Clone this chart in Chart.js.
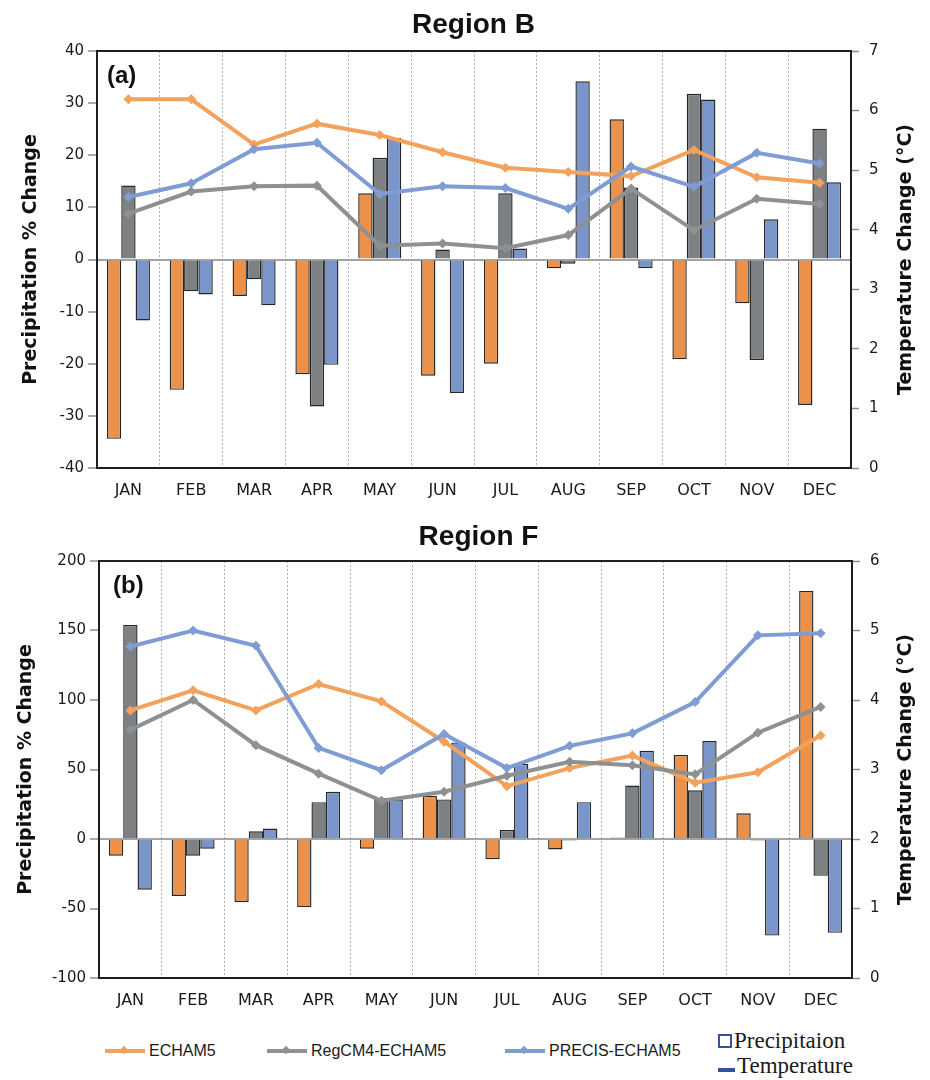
<!DOCTYPE html>
<html>
<head>
<meta charset="utf-8">
<title>Region B / Region F precipitation and temperature change</title>
<script src="https://cdn.jsdelivr.net/npm/chart.js@4.4.0/dist/chart.umd.min.js"></script>
<style>
  body { margin: 0; background: #fff; }
  #wrap { position: relative; width: 930px; height: 1080px; overflow: hidden; }
  #wrap canvas { position: absolute; left: 0; }
  #chartB { top: 0; }
  #chartF { top: 510px; }
  .tag { position: absolute; font: bold 24px "Liberation Sans", Arial, sans-serif; line-height: 24px; color: #111; }
  .lg { position: absolute; display: flex; align-items: center; color: #1a1a1a; white-space: nowrap; }
  .lg.series { font: 16px "Liberation Sans", Arial, sans-serif; }
  .lg.kind { font: 23px "Liberation Serif", "Times New Roman", serif; }
  .sym-line { position: relative; width: 40px; height: 4px; margin-right: 4px; }
  .sym-line i { position: absolute; left: 16px; top: -2px; width: 6px; height: 6px; transform: rotate(45deg); }
  .sym-box { width: 14px; height: 14px; border: 2px solid #2f5597; margin-right: 2px; box-sizing: border-box; }
  .sym-dash { width: 17px; height: 4px; background: #2f5597; margin-right: 2px; margin-top: 7px; }
</style>
</head>
<body>
<div id="wrap">
  <canvas id="chartB" width="930" height="510"></canvas>
  <canvas id="chartF" width="930" height="510"></canvas>
  <span class="tag" style="left:107px;top:63px">(a)</span>
  <span class="tag" style="left:113px;top:573px">(b)</span>
  <div id="legend"></div>
</div>
<script>
// --- Data ---
const months = ['JAN', 'FEB', 'MAR', 'APR', 'MAY', 'JUN', 'JUL', 'AUG', 'SEP', 'OCT', 'NOV', 'DEC'];
const seriesNames = ['ECHAM5', 'RegCM4-ECHAM5', 'PRECIS-ECHAM5'];

// Region B, precipitation % change (bars, left axis)
const regionB_echam5_precip = [-34.4, -25.0, -7.0, -22.0, 12.7, -22.3, -20.0, -1.7, 26.9, -19.1, -8.4, -27.9];
const regionB_regcm4_precip = [14.2, -6.1, -3.8, -28.2, 19.5, 1.9, 12.7, -0.8, 13.8, 31.8, -19.3, 25.1];
const regionB_precis_precip = [-11.7, -6.7, -8.8, -20.2, 23.3, -25.6, 2.1, 34.2, -1.7, 30.7, 7.7, 14.8];
// Region B, temperature change °C (lines, right axis)
const regionB_echam5_temp = [6.19, 6.19, 5.43, 5.78, 5.59, 5.30, 5.04, 4.97, 4.90, 5.34, 4.88, 4.79];
const regionB_regcm4_temp = [4.27, 4.64, 4.73, 4.74, 3.73, 3.77, 3.69, 3.91, 4.69, 3.99, 4.52, 4.43];
const regionB_precis_temp = [4.55, 4.78, 5.35, 5.46, 4.60, 4.73, 4.70, 4.35, 5.06, 4.72, 5.29, 5.11];

// Region F, precipitation % change
const regionF_echam5_precip = [-12, -41, -45.5, -49, -7, 31, -14.5, -7.5, 1, 60.5, 18.5, 178.5];
const regionF_regcm4_precip = [154, -12, 5.5, 26.5, 29.5, 28.5, 6.5, -1, 38.5, 35, -1, -26.5];
const regionF_precis_precip = [-36.5, -7, 7.5, 34, 28.5, 69.5, 54, 26.5, 63.5, 70.5, -69.5, -67.5];
// Region F, temperature change °C
const regionF_echam5_temp = [3.85, 4.14, 3.85, 4.23, 3.98, 3.40, 2.76, 3.02, 3.20, 2.81, 2.96, 3.49];
const regionF_regcm4_temp = [3.57, 4.00, 3.35, 2.94, 2.55, 2.68, 2.91, 3.11, 3.06, 2.93, 3.53, 3.90];
const regionF_precis_temp = [4.77, 5.00, 4.78, 3.31, 2.99, 3.51, 3.02, 3.34, 3.52, 3.97, 4.93, 4.96];

// axis ranges / ticks
const regionB_precipTicks = { min: -40, max: 40, step: 10 };
const regionB_tempTicks = { min: 0, max: 7, step: 1 };
const regionF_precipTicks = { min: -100, max: 200, step: 50 };
const regionF_tempTicks = { min: 0, max: 6, step: 1 };

// --- Styles ---
const barColors = ['#ec9149', '#7d8184', '#7a95c9'];
const lineColors = ['#f2a25c', '#8e9091', '#7f9cd4'];
const INK = '#1a1a1a';
const FRAME = '#1e1e1e';
const TITLE_FONT = 'bold 19px "DejaVu Sans", Verdana, sans-serif';

Chart.defaults.font.family = '"DejaVu Sans", Verdana, sans-serif';
Chart.defaults.color = INK;

// top edge of the plot box (the axes draw the other three sides)
const frameTop = {
  id: 'frameTop',
  afterDraw(chart) {
    const { ctx, chartArea: a } = chart;
    ctx.save();
    ctx.strokeStyle = FRAME;
    ctx.lineWidth = 2;
    ctx.beginPath();
    ctx.moveTo(a.left - 1, a.top);
    ctx.lineTo(a.right + 1, a.top);
    ctx.stroke();
    ctx.restore();
  }
};

// right axis title reads bottom-to-top like the left one
const rightAxisTitle = {
  id: 'rightAxisTitle',
  afterDraw(chart, args, opts) {
    const { ctx, chartArea: a } = chart;
    ctx.save();
    ctx.translate(opts.x, (a.top + a.bottom) / 2);
    ctx.rotate(-Math.PI / 2);
    ctx.font = TITLE_FONT;
    ctx.fillStyle = '#111';
    ctx.textAlign = 'center';
    ctx.textBaseline = 'middle';
    ctx.fillText(opts.text, 0, 0);
    ctx.restore();
  }
};

function buildDatasets(precip, temp) {
  const lines = temp.map((d, i) => ({
    type: 'line', label: seriesNames[i], data: d, yAxisID: 'yT',
    borderColor: lineColors[i], backgroundColor: lineColors[i],
    borderWidth: 4, tension: 0,
    pointStyle: 'rectRot', pointRadius: 5, pointBorderWidth: 0,
    order: 2 - i,
  }));
  const bars = precip.map((d, i) => ({
    type: 'bar', label: seriesNames[i], data: d, yAxisID: 'yP',
    backgroundColor: barColors[i], borderColor: '#262626', borderWidth: 1.4,
    categoryPercentage: 0.685, barPercentage: 1,
    order: 10 + i,
  }));
  return [...lines, ...bars];
}

function makeChart(id, opts) {
  const { title, precip, temp, pTicks, tTicks, plotLeft, plotRight, padLeft, titleY, leftTitlePad } = opts;
  return new Chart(document.getElementById(id), {
    type: 'bar',
    data: { labels: months, datasets: buildDatasets(precip, temp) },
    plugins: [frameTop, rightAxisTitle],
    options: {
      responsive: false,
      animation: false,
      devicePixelRatio: 1,
      layout: { padding: { left: padLeft, right: 0, top: 0, bottom: 0 } },
      plugins: {
        legend: { display: false },
        tooltip: { enabled: false },
        title: {
          display: true, text: title, color: '#111',
          font: { family: '"Liberation Sans", Arial, sans-serif', size: 28, weight: 'bold' },
          padding: { top: titleY, bottom: 51 - titleY - 33.6 },
        },
        rightAxisTitle: { text: 'Temperature Change (°C)', x: 906 },
      },
      scales: {
        x: {
          grid: { offset: true, drawTicks: false, color: '#b0b0b0', lineWidth: 1 },
          border: { display: true, color: FRAME, width: 2, dash: [2, 2] },
          ticks: { font: { size: 16 }, color: INK, padding: 13 },
          afterFit: s => { s.height = 42; },
        },
        yP: {
          position: 'left',
          min: pTicks.min, max: pTicks.max,
          ticks: { stepSize: pTicks.step, font: { size: 15 }, color: INK, padding: 4 },
          grid: {
            color: c => (c.tick && c.tick.value === 0 ? '#a3a3a3' : 'rgba(0,0,0,0)'),
            lineWidth: 2, tickColor: '#8c8c8c', tickLength: 9, tickWidth: 1.5,
          },
          border: { display: true, color: FRAME, width: 2 },
          title: {
            display: true, text: 'Precipitation % Change', color: '#111',
            font: { size: 19, weight: 'bold' }, padding: { top: leftTitlePad, bottom: 0 },
          },
          afterFit: s => { s.width = plotLeft - padLeft; },
        },
        yT: {
          position: 'right',
          min: tTicks.min, max: tTicks.max,
          ticks: { stepSize: tTicks.step, font: { size: 15 }, color: INK, padding: 10 },
          grid: { drawOnChartArea: false, tickColor: '#8c8c8c', tickLength: 8, tickWidth: 1.5 },
          border: { display: true, color: FRAME, width: 2 },
          afterFit: s => { s.width = 930 - plotRight; },
        },
      },
    },
  });
}

makeChart('chartB', {
  title: 'Region B',
  precip: [regionB_echam5_precip, regionB_regcm4_precip, regionB_precis_precip],
  temp: [regionB_echam5_temp, regionB_regcm4_temp, regionB_precis_temp],
  pTicks: regionB_precipTicks, tTicks: regionB_tempTicks,
  plotLeft: 97, plotRight: 851, padLeft: 17, titleY: 8.5, leftTitlePad: 3,
});

makeChart('chartF', {
  title: 'Region F',
  precip: [regionF_echam5_precip, regionF_regcm4_precip, regionF_precis_precip],
  temp: [regionF_echam5_temp, regionF_regcm4_temp, regionF_precis_temp],
  pTicks: regionF_precipTicks, tTicks: regionF_tempTicks,
  plotLeft: 99, plotRight: 852, padLeft: 27, titleY: 10.5, leftTitlePad: -12,
});

// --- Legend (below both panels) ---
const legend = document.getElementById('legend');
const seriesLegendX = [105, 267, 505];
seriesNames.forEach((name, i) => {
  const el = document.createElement('div');
  el.className = 'lg series';
  el.style.left = seriesLegendX[i] + 'px';
  el.style.top = '1042px';
  el.innerHTML = `<span class="sym-line" style="background:${lineColors[i]}"><i style="background:${lineColors[i]}"></i></span>${name}`;
  legend.appendChild(el);
});
const kinds = [
  { text: 'Precipitaion', sym: 'sym-box', top: 1028 },
  { text: 'Temperature', sym: 'sym-dash', top: 1053 },
];
kinds.forEach(k => {
  const el = document.createElement('div');
  el.className = 'lg kind';
  el.style.left = '718px';
  el.style.top = k.top + 'px';
  el.innerHTML = `<span class="${k.sym}"></span>${k.text}`;
  legend.appendChild(el);
});
</script>
</body>
</html>
